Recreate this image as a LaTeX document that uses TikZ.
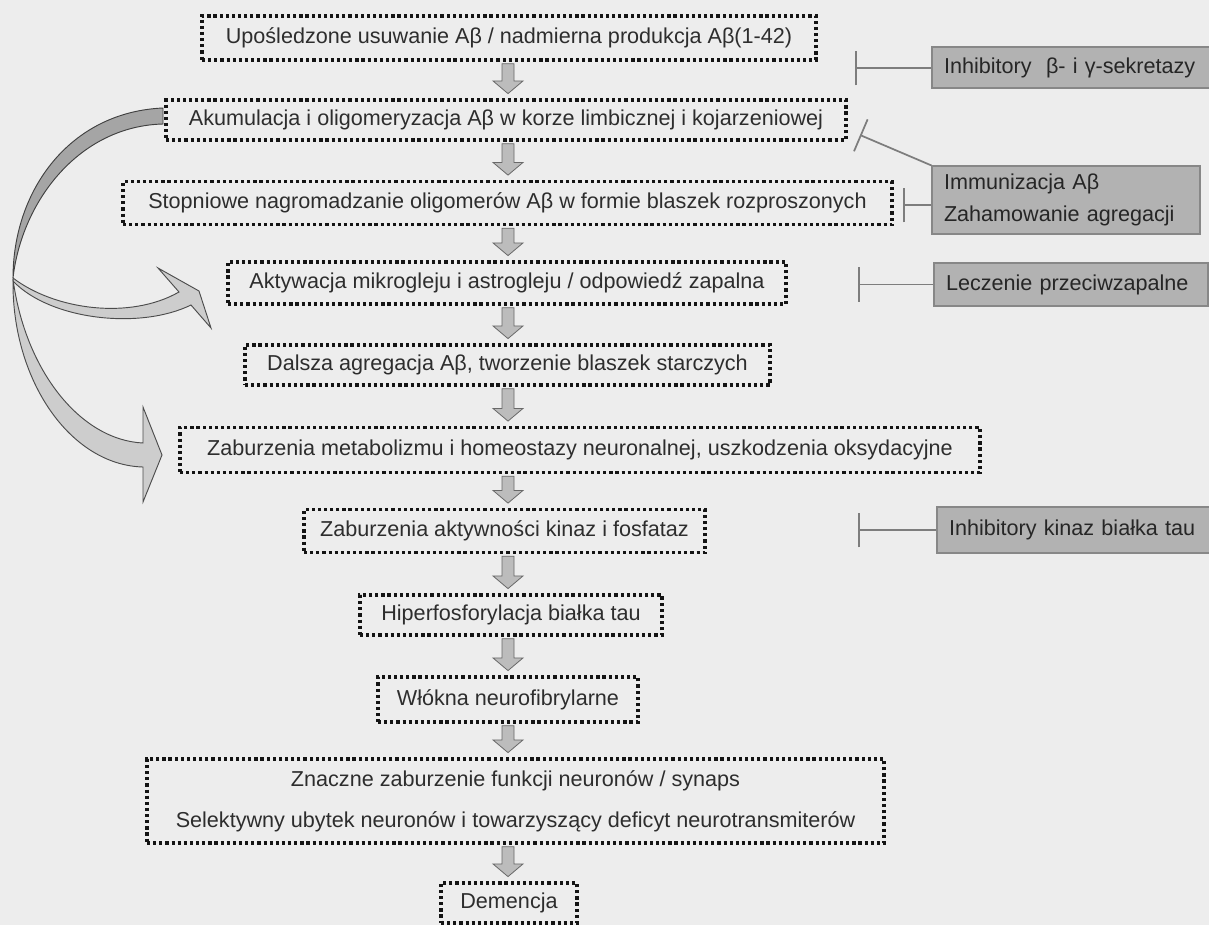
\documentclass[tikz,border=0pt]{standalone}
\usepackage{fontspec}
\setmainfont{Liberation Sans}
\usetikzlibrary{arrows.meta,calc}
\definecolor{bgcol}{RGB}{237,237,237}
\definecolor{boxline}{RGB}{20,20,20}
\definecolor{txt}{RGB}{45,45,45}
\definecolor{therfill}{RGB}{178,178,178}
\definecolor{therline}{RGB}{135,135,135}
\definecolor{inhline}{RGB}{125,125,125}
\definecolor{arrfill}{RGB}{188,188,188}
\definecolor{arrline}{RGB}{105,105,105}
\definecolor{bandfill}{RGB}{165,165,165}
\definecolor{branchfill}{RGB}{205,205,205}
\tikzset{
  stage/.style={draw=boxline, line width=2.6pt, dash pattern=on 2.4pt off 2.2pt,
    inner sep=0pt, text=txt, font=\fontsize{16.2}{19.5}\selectfont},
  therapy/.style={draw=therline, fill=therfill, line width=0.8pt, inner ysep=0pt,
    inner xsep=9pt, align=left, text=black!85, font=\fontsize{16.2}{24}\selectfont},
  inhib/.style={draw=inhline, line width=1.3pt, -{Bar[width=26pt,line width=1.3pt]}},
  blockarr/.style={draw=arrline, fill=arrfill, line width=0.6pt},
  band/.style={draw=black!75, fill=bandfill, line width=0.7pt},
  branch/.style={draw=black!70, fill=branchfill, line width=0.7pt}
}
\begin{document}
\begin{tikzpicture}[x=0.75pt, y=-0.75pt]
\fill[bgcol] (0,0) rectangle (1209,925);
\useasboundingbox (0,0) rectangle (1209,925);
% etapy kaskady
\node[stage, minimum width=614*0.75pt, minimum height=44*0.75pt] (b1) at (509,38) {Upośledzone usuwanie Aβ / nadmierna produkcja Aβ(1-42)};
\node[stage, minimum width=680*0.75pt, minimum height=40*0.75pt] (b2) at (506,120) {Akumulacja i oligomeryzacja Aβ w korze limbicznej i kojarzeniowej};
\node[stage, minimum width=769*0.75pt, minimum height=43*0.75pt] (b3) at (507.5,203) {Stopniowe nagromadzanie oligomerów Aβ w formie blaszek rozproszonych};
\node[stage, minimum width=558*0.75pt, minimum height=42*0.75pt] (b4) at (507,283) {Aktywacja mikrogleju i astrogleju / odpowiedź zapalna};
\node[stage, minimum width=525*0.75pt, minimum height=40*0.75pt] (b5) at (507.5,365) {Dalsza agregacja Aβ, tworzenie blaszek starczych};
\node[stage, minimum width=800*0.75pt, minimum height=45*0.75pt] (b6) at (580,450) {Zaburzenia metabolizmu i homeostazy neuronalnej, uszkodzenia oksydacyjne};
\node[stage, minimum width=401*0.75pt, minimum height=43*0.75pt] (b7) at (504.5,531) {Zaburzenia aktywności kinaz i fosfataz};
\node[stage, minimum width=302*0.75pt, minimum height=40*0.75pt] (b8) at (511,615) {Hiperfosforylacja białka tau};
\node[stage, minimum width=260*0.75pt, minimum height=45*0.75pt] (b9) at (508,699.5) {Włókna neurofibrylarne};
\node[stage, minimum width=737*0.75pt, minimum height=84*0.75pt, align=center] (b10) at (515.5,801)
  {Znaczne zaburzenie funkcji neuronów / synaps\\[11pt]Selektywny ubytek neuronów i towarzyszący deficyt neurotransmiterów};
\node[stage, minimum width=136*0.75pt, minimum height=40*0.75pt] (b11) at (509,903) {Demencja};
% strzalki blokowe
\coordinate (ax) at (508,0);
\foreach \a/\b in {b1/b2,b2/b3,b3/b4,b4/b5,b5/b6,b6/b7,b7/b8,b8/b9,b9/b10,b10/b11}
{
  \draw[blockarr] let \p1=(ax|-\a.south), \p2=(ax|-\b.north) in
    (\x1-4.5pt,\y1-1.5pt) -- (\x1+4.5pt,\y1-1.5pt) -- (\x1+4.5pt,\y2+13pt) -- (\x1+11.25pt,\y2+13pt)
    -- (\x1,\y2+3.5pt) -- (\x1-11.25pt,\y2+13pt) -- (\x1-4.5pt,\y2+13pt) -- cycle;
}
% terapie
\node[therapy, text width=(290-24)*0.75pt, minimum height=41*0.75pt] (tA) at (1077,67.5) {Inhibitory \ β- i γ-sekretazy};
\node[therapy, text width=(268-24)*0.75pt, minimum height=68*0.75pt] (tB) at (1066,200) {Immunizacja Aβ\\Zahamowanie agregacji};
\node[therapy, text width=(274-24)*0.75pt, minimum height=43*0.75pt] (tC) at (1071,284.5) {Leczenie przeciwzapalne};
\node[therapy, text width=(290-24)*0.75pt, minimum height=46*0.75pt] (tD) at (1082,530) {Inhibitory kinaz białka tau};
\coordinate (iA) at (855,68);
\coordinate (iB1) at (860,135);
\coordinate (iB2) at (903,205);
\coordinate (iC) at (858,284.5);
\coordinate (iD) at (858,530);
\draw[inhib] (tA.west|-iA) -- (iA);
\draw[inhib] (tB.north west) -- (iB1);
\draw[inhib] (tB.west|-iB2) -- (iB2);
\draw[inhib] (tC.west) -- (iC);
\draw[inhib] (tD.west) -- (iD);
% zakrzywione strzalki po lewej
\draw[band] (163,108) .. controls (70,112) and (13,190) .. (13,278)
  .. controls (22,200) and (80,126) .. (163,124) -- cycle;
\draw[branch] (13,278) .. controls (55,310) and (130,320) .. (179,292) -- (158,268) -- (199,291)
  -- (211,328) -- (191,305) .. controls (140,330) and (50,320) .. (13,281) -- cycle;
\draw[branch] (13,279) .. controls (25,370) and (80,440) .. (143,443) -- (143,407) -- (162,455)
  -- (143,502) -- (143,467) .. controls (70,465) and (12,380) .. (13,281) -- cycle;
\end{tikzpicture}
\end{document}
